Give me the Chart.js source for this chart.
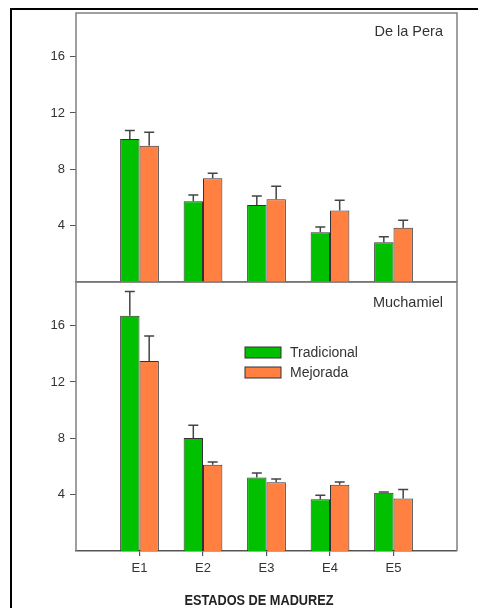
<!DOCTYPE html>
<html>
<head>
<meta charset="utf-8">
<script src="https://cdn.jsdelivr.net/npm/chart.js@4.4.0/dist/chart.umd.min.js"></script>
<style>
  html, body { margin: 0; padding: 0; background: #fff; }
  body { width: 478px; height: 608px; position: relative; overflow: hidden; }
  #frame { position: absolute; left: 10px; top: 8px; width: 520px; height: 700px;
           border: 2px solid #000; box-sizing: border-box; }
  .panel { position: absolute; left: 0; width: 478px; }
  #top { top: 0; height: 290px; }
  #bottom { top: 270px; height: 338px; }
</style>
</head>
<body>
<div id="frame"></div>
<div class="panel" id="top"><canvas id="c1"></canvas></div>
<div class="panel" id="bottom"><canvas id="c2"></canvas></div>
<script>
// Ripening stages and series
const categories = ['E1', 'E2', 'E3', 'E4', 'E5'];
const seriesNames = ['Tradicional', 'Mejorada'];
const yTickValues = [4, 8, 12, 16];
const xTitle = 'ESTADOS DE MADUREZ';

// De la Pera: means and standard errors
const peraTradicional    = [10.15, 5.73, 5.47, 3.53, 2.82];
const peraTradicionalErr = [0.60, 0.45, 0.64, 0.37, 0.40];
const peraMejorada       = [9.67, 7.37, 5.88, 5.07, 3.86];
const peraMejoradaErr    = [0.97, 0.36, 0.92, 0.73, 0.52];

// Muchamiel: means and standard errors
const muchTradicional    = [16.71, 8.03, 5.21, 3.67, 4.14];
const muchTradicionalErr = [1.71, 0.90, 0.33, 0.28, 0.05];
const muchMejorada       = [13.49, 6.13, 4.88, 4.71, 3.72];
const muchMejoradaErr    = [1.78, 0.19, 0.23, 0.19, 0.64];

const GREEN = '#00c000';
const ORANGE = '#ff8040';
const FONT = "'Liberation Sans', Arial, sans-serif";

// empty slots at both ends give the half-gap margins of the axis
const pad = arr => [null, ...arr, null];

const errorBars = {
  id: 'errorBars',
  afterDatasetsDraw(chart) {
    const ctx = chart.ctx;
    const y = chart.scales.y;
    ctx.save();
    ctx.strokeStyle = '#444';
    ctx.lineWidth = 1.5;
    chart.data.datasets.forEach((ds, di) => {
      const meta = chart.getDatasetMeta(di);
      meta.data.forEach((bar, i) => {
        const v = ds.data[i], e = ds.errors[i];
        if (v == null || e == null) return;
        const yTop = y.getPixelForValue(v + e);
        ctx.beginPath();
        ctx.moveTo(bar.x, bar.y);
        ctx.lineTo(bar.x, yTop);
        ctx.moveTo(bar.x - 5, yTop);
        ctx.lineTo(bar.x + 5, yTop);
        ctx.stroke();
      });
    });
    ctx.restore();
  }
};

const decor = {
  id: 'decor',
  afterDraw(chart, args, opts) {
    const { ctx, chartArea: a } = chart;
    ctx.save();
    // plot frame: left, top, right
    ctx.strokeStyle = '#808080';
    ctx.lineWidth = 1.5;
    ctx.beginPath();
    ctx.moveTo(a.left, a.bottom);
    ctx.lineTo(a.left, a.top);
    ctx.lineTo(a.right, a.top);
    ctx.lineTo(a.right, a.bottom);
    ctx.stroke();

    // panel name
    ctx.fillStyle = '#333';
    ctx.font = '14.5px ' + FONT;
    ctx.textAlign = 'right';
    ctx.textBaseline = 'middle';
    ctx.fillText(opts.name, a.right - 14, a.top + opts.nameOffset);

    if (opts.legend) {
      const x0 = a.left + 169;
      chart.data.datasets.forEach((ds, i) => {
        const yy = a.top + 65 + i * 20;
        ctx.fillStyle = ds.backgroundColor;
        ctx.fillRect(x0, yy, 36, 11);
        ctx.strokeStyle = '#333';
        ctx.lineWidth = 1;
        ctx.strokeRect(x0, yy, 36, 11);
        ctx.fillStyle = '#333';
        ctx.textAlign = 'left';
        ctx.font = '14px ' + FONT;
        ctx.fillText(ds.label, x0 + 45, yy + 6);
      });
    }

    if (opts.title) {
      ctx.fillStyle = '#222';
      ctx.font = 'bold 14px ' + FONT;
      ctx.textAlign = 'center';
      ctx.textBaseline = 'middle';
      ctx.translate(a.left + 183, a.bottom + 50);
      ctx.scale(0.91, 1);
      ctx.fillText(opts.title, 0, 0);
    }
    ctx.restore();
  }
};

function makePanel(canvasId, name, trad, tradErr, mej, mejErr, isBottom) {
  return new Chart(document.getElementById(canvasId), {
    type: 'bar',
    data: {
      labels: pad(categories),
      datasets: [
        { label: seriesNames[0], data: pad(trad), errors: pad(tradErr),
          backgroundColor: GREEN, borderColor: '#333', borderWidth: 1 },
        { label: seriesNames[1], data: pad(mej), errors: pad(mejErr),
          backgroundColor: ORANGE, borderColor: '#333', borderWidth: 1 }
      ]
    },
    options: {
      responsive: true,
      maintainAspectRatio: false,
      animation: false,
      events: [],
      categoryPercentage: 0.61,
      barPercentage: 1,
      layout: { padding: isBottom ? { top: 12, right: 21, bottom: 0, left: 0 }
                                  : { top: 13, right: 21, bottom: 8, left: 0 } },
      plugins: {
        legend: { display: false },
        tooltip: { enabled: false },
        decor: { name: name, nameOffset: isBottom ? 21 : 19,
                 legend: isBottom, title: isBottom ? xTitle : null }
      },
      scales: {
        x: {
          type: 'category',
          offset: false,
          grid: {
            display: isBottom, offset: false, drawOnChartArea: false, drawTicks: true,
            tickLength: 5, lineWidth: 1.2,
            color: c => (c.tick && c.tick.label) ? '#555' : 'rgba(0,0,0,0)'
          },
          border: { display: true, color: '#555', width: 1.5 },
          ticks: { display: isBottom, autoSkip: false, maxRotation: 0,
                   font: { family: FONT, size: 13 }, color: '#333', padding: 5 },
          afterFit: s => { s.height = isBottom ? 57 : 0; s.paddingLeft = 0; s.paddingRight = 0; }
        },
        y: {
          min: 0,
          max: 19.1,
          afterBuildTicks: s => { s.ticks = yTickValues.map(v => ({ value: v })); },
          grid: { drawOnChartArea: false, drawTicks: true, tickLength: 6, color: '#555' },
          border: { display: false },
          ticks: { font: { family: FONT, size: 13 }, color: '#333', padding: 5 },
          afterFit: s => { s.width = 76; s.paddingTop = 0; s.paddingBottom = 0; }
        }
      }
    },
    plugins: [errorBars, decor]
  });
}

makePanel('c1', 'De la Pera', peraTradicional, peraTradicionalErr, peraMejorada, peraMejoradaErr, false);
makePanel('c2', 'Muchamiel', muchTradicional, muchTradicionalErr, muchMejorada, muchMejoradaErr, true);
</script>
</body>
</html>
